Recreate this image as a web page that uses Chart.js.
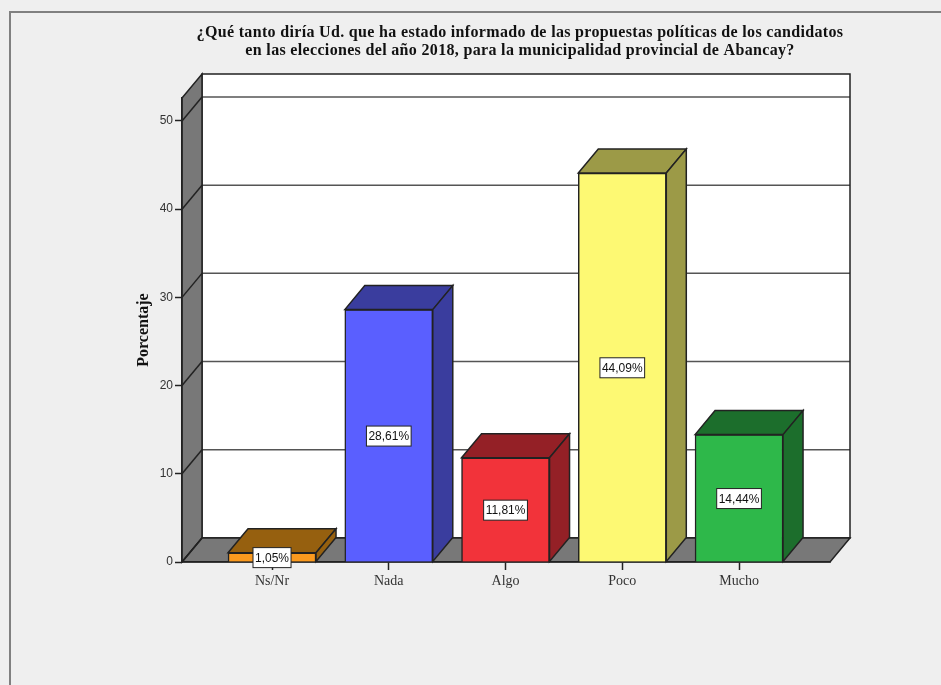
<!DOCTYPE html>
<html>
<head>
<meta charset="utf-8">
<title>Abancay 2018</title>
<script src="https://cdn.jsdelivr.net/npm/chart.js@4"></script>
<style>
  html, body { margin: 0; padding: 0; background: #efefef; overflow: hidden; }
  canvas { display: block; }
</style>
</head>
<body>
<canvas id="grafico" width="941" height="685"></canvas>
<script>
// Datos
const categorias = ['Ns/Nr', 'Nada', 'Algo', 'Poco', 'Mucho'];
const porcentajes = [1.05, 28.61, 11.81, 44.09, 14.44];
const etiquetas = ['1,05%', '28,61%', '11,81%', '44,09%', '14,44%'];
const ticksY = [0, 10, 20, 30, 40, 50];
const titulo = [
  '¿Qué tanto diría Ud. que ha estado informado de las propuestas políticas de los candidatos',
  'en las elecciones del año 2018, para la municipalidad provincial de Abancay?'
];

const coloresFrente = ['#fb9a1e', '#5a5fff', '#f2333a', '#fdf973', '#2eb84a'];
const coloresLado = ['#96600f', '#3a3d9e', '#942026', '#9c9a47', '#1c6e2c'];

const LINEA = '#222222';
const GRIS = '#787878';
const DX = 20; // profundidad del efecto 3D
const DY = 24;

function poligono(ctx, puntos, relleno) {
  ctx.beginPath();
  puntos.forEach((p, i) => i ? ctx.lineTo(p[0], p[1]) : ctx.moveTo(p[0], p[1]));
  ctx.closePath();
  if (relleno) {
    ctx.fillStyle = relleno;
    ctx.fill();
  }
  ctx.stroke();
}

// Fondo: marco, paredes, piso y lineas de la grilla
const fondo3d = {
  id: 'fondo3d',
  beforeDraw(chart) {
    const { ctx, chartArea: a, scales } = chart;
    ctx.save();
    ctx.fillStyle = '#efefef';
    ctx.fillRect(0, 0, chart.width, chart.height);
    ctx.strokeStyle = '#808080';
    ctx.lineWidth = 2;
    ctx.beginPath();
    ctx.moveTo(10, chart.height);
    ctx.lineTo(10, 12);
    ctx.lineTo(chart.width, 12);
    ctx.stroke();

    ctx.fillStyle = '#ffffff';
    ctx.fillRect(a.left + DX, a.top - DY, a.width, a.height);

    // Grilla sobre la pared del fondo
    ctx.strokeStyle = '#555555';
    ctx.lineWidth = 1.5;
    ticksY.forEach(v => {
      const y = scales.y.getPixelForValue(v) - DY;
      ctx.beginPath();
      ctx.moveTo(a.left + DX, y);
      ctx.lineTo(a.right + DX, y);
      ctx.stroke();
    });

    ctx.strokeStyle = LINEA;
    ctx.strokeRect(a.left + DX, a.top - DY, a.width, a.height);
    poligono(ctx, [[a.left, a.top], [a.left + DX, a.top - DY], [a.left + DX, a.bottom - DY], [a.left, a.bottom]], GRIS);
    poligono(ctx, [[a.left, a.bottom], [a.left + DX, a.bottom - DY], [a.right + DX, a.bottom - DY], [a.right, a.bottom]], GRIS);

    // Tramo inclinado sobre la pared lateral
    ticksY.forEach(v => {
      const y = scales.y.getPixelForValue(v);
      ctx.beginPath();
      ctx.moveTo(a.left, y);
      ctx.lineTo(a.left + DX, y - DY);
      ctx.stroke();
    });
    ctx.restore();
  },
  afterDatasetsDraw(chart) {
    const { ctx } = chart;
    ctx.save();
    ctx.strokeStyle = LINEA;
    ctx.lineWidth = 1.5;
    chart.getDatasetMeta(0).data.forEach((bar, i) => {
      const izq = bar.x - bar.width / 2;
      const der = bar.x + bar.width / 2;
      poligono(ctx, [[izq, bar.y], [izq + DX, bar.y - DY], [der + DX, bar.y - DY], [der, bar.y]], coloresLado[i]);
      poligono(ctx, [[der, bar.y], [der + DX, bar.y - DY], [der + DX, bar.base - DY], [der, bar.base]], coloresLado[i]);
    });
    ctx.restore();
  },
  afterDraw(chart) {
    const { ctx } = chart;
    ctx.save();
    ctx.textAlign = 'center';
    ctx.textBaseline = 'middle';

    // Etiquetas de valor
    ctx.font = '12px "Liberation Sans"';
    chart.getDatasetMeta(0).data.forEach((bar, i) => {
      const w = ctx.measureText(etiquetas[i]).width + 4;
      const yc = (bar.y + bar.base) / 2 + 0.5;
      ctx.fillStyle = '#ffffff';
      ctx.strokeStyle = LINEA;
      ctx.lineWidth = 1;
      ctx.fillRect(bar.x - w / 2, yc - 10, w, 20);
      ctx.strokeRect(bar.x - w / 2, yc - 10, w, 20);
      ctx.fillStyle = '#111111';
      ctx.fillText(etiquetas[i], bar.x, yc + 1);
    });

    // Titulo
    ctx.font = 'bold 16px "Liberation Serif"';
    ctx.fillStyle = '#111111';
    ctx.letterSpacing = '0.33px';
    titulo.forEach((linea, i) => ctx.fillText(linea, 520, 33 + i * 18));
    ctx.restore();
  }
};

new Chart(document.getElementById('grafico'), {
  type: 'bar',
  data: {
    datasets: [{
      data: porcentajes.map((v, i) => ({ x: i, y: v })),
      backgroundColor: coloresFrente,
      borderColor: LINEA,
      borderWidth: 1.5,
      barThickness: 88
    }]
  },
  plugins: [fondo3d],
  options: {
    responsive: false,
    animation: false,
    layout: { padding: { top: 98, right: 111, bottom: 63, left: 0 } },
    plugins: {
      legend: { display: false },
      title: { display: false },
      tooltip: { enabled: false }
    },
    scales: {
      x: {
        type: 'linear',
        offset: false,
        min: -0.771,
        max: 4.779,
        afterBuildTicks: axis => { axis.ticks = categorias.map((c, i) => ({ value: i })); },
        afterFit: axis => { axis.height = 60; },
        grid: { offset: false, drawOnChartArea: false, tickLength: 8, tickColor: LINEA, tickWidth: 1.5 },
        border: { color: LINEA, width: 1.5 },
        ticks: {
          autoSkip: false,
          maxRotation: 0,
          padding: 3,
          color: '#333333',
          font: { family: '"Liberation Serif"', size: 14 },
          callback: v => categorias[v]
        }
      },
      y: {
        min: 0,
        max: 52.6,
        afterBuildTicks: axis => { axis.ticks = ticksY.map(v => ({ value: v })); },
        afterFit: axis => { axis.width = 182; },
        grid: { drawOnChartArea: false, tickLength: 7, tickColor: LINEA, tickWidth: 1.5 },
        border: { color: LINEA, width: 1.5 },
        ticks: {
          padding: 2,
          color: '#333333',
          font: { family: '"Liberation Sans"', size: 12 }
        },
        title: {
          display: true,
          text: 'Porcentaje',
          color: '#111111',
          font: { family: '"Liberation Serif"', size: 16, weight: 'bold' },
          padding: { top: 134, bottom: 0 }
        }
      }
    }
  }
});
</script>
</body>
</html>
